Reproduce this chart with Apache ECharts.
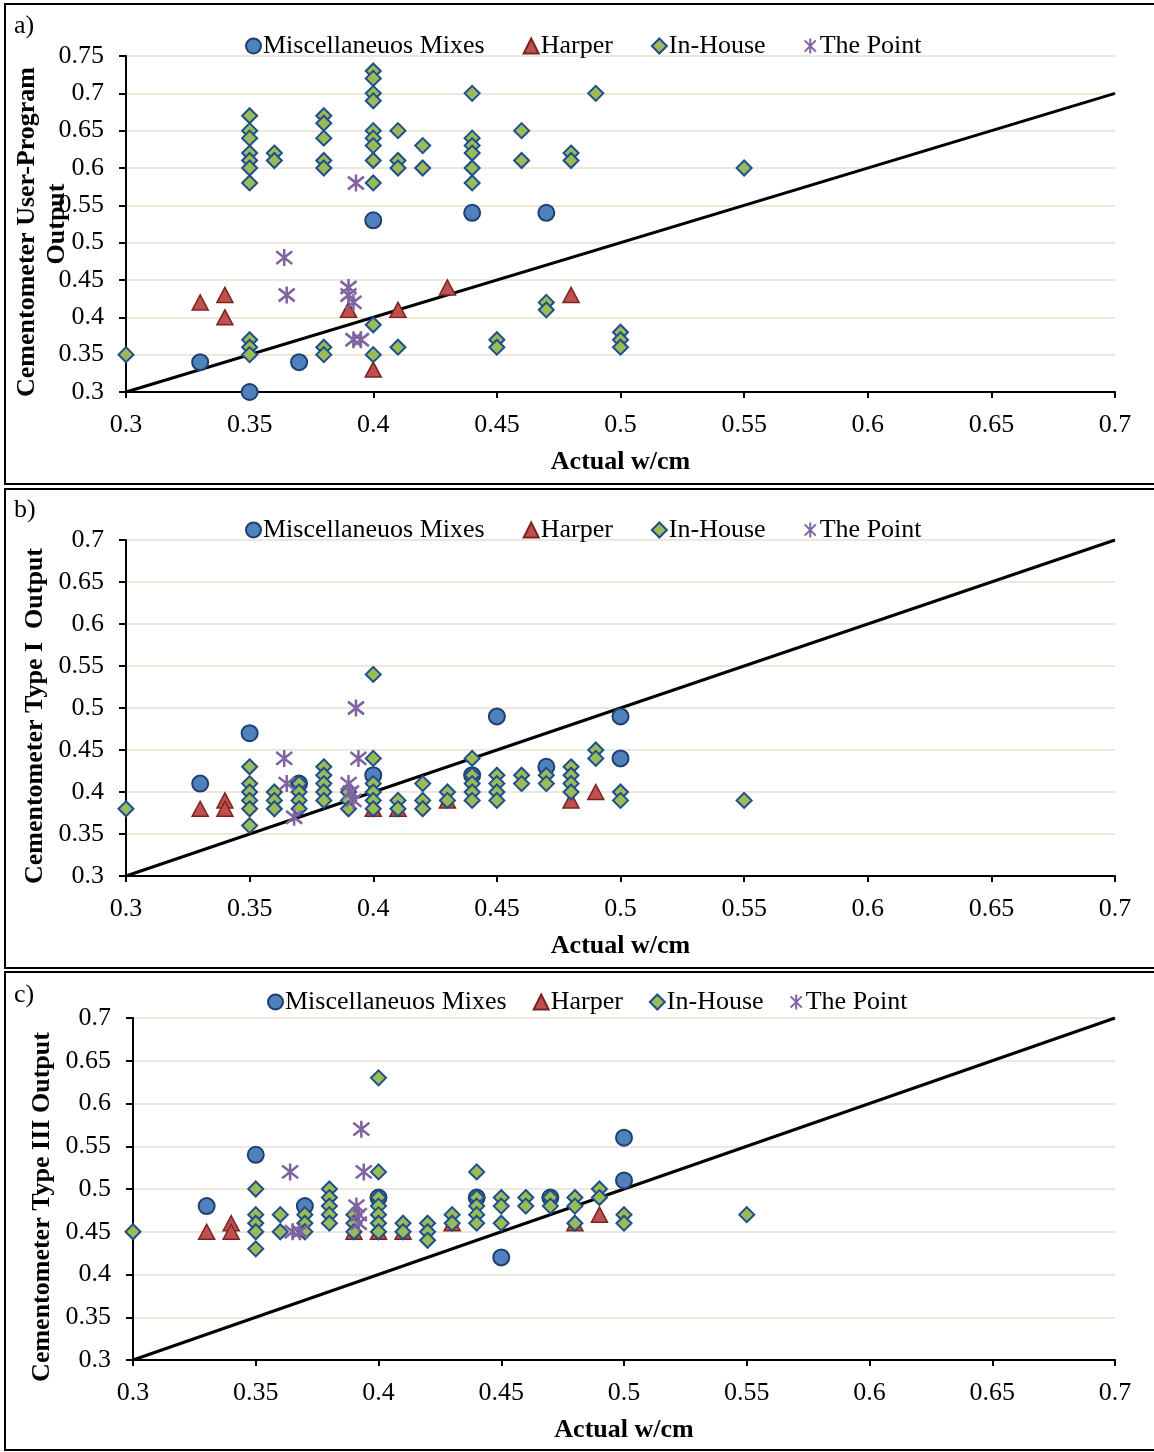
<!DOCTYPE html>
<html>
<head>
<meta charset="utf-8">
<script src="https://cdn.jsdelivr.net/npm/echarts@6/dist/echarts.min.js"></script>
<style>
html,body{margin:0;padding:0;background:#fff;}
#chart{width:1154px;height:1452px;}
</style>
</head>
<body>
<div id="chart"></div>
<script>
// ---------- DATA ----------
var seriesNames = ['Miscellaneuos Mixes', 'Harper', 'In-House', 'The Point'];
var xTicks = [0.3, 0.35, 0.4, 0.45, 0.5, 0.55, 0.6, 0.65, 0.7];
var yTicksA = [0.3, 0.35, 0.4, 0.45, 0.5, 0.55, 0.6, 0.65, 0.7, 0.75];
var yTicksBC = [0.3, 0.35, 0.4, 0.45, 0.5, 0.55, 0.6, 0.65, 0.7];
var equalityLine = [[0.3, 0.3], [0.7, 0.7]];

// Panel a) Cementometer User-Program Output
var miscA = [[0.33,0.34],[0.35,0.30],[0.37,0.34],[0.40,0.53],[0.44,0.54],[0.47,0.54]];
var harperA = [[0.33,0.42],[0.34,0.43],[0.34,0.40],[0.39,0.41],[0.40,0.33],[0.41,0.41],[0.43,0.44],[0.48,0.43]];
var inHouseA = [[0.30,0.35],
  [0.35,0.67],[0.35,0.65],[0.35,0.64],[0.35,0.62],[0.35,0.61],[0.35,0.60],[0.35,0.58],[0.35,0.37],[0.35,0.36],[0.35,0.35],
  [0.36,0.62],[0.36,0.61],
  [0.38,0.67],[0.38,0.66],[0.38,0.64],[0.38,0.61],[0.38,0.60],[0.38,0.36],[0.38,0.35],
  [0.40,0.73],[0.40,0.72],[0.40,0.70],[0.40,0.69],[0.40,0.65],[0.40,0.64],[0.40,0.63],[0.40,0.61],[0.40,0.58],[0.40,0.39],[0.40,0.35],
  [0.41,0.65],[0.41,0.61],[0.41,0.60],[0.41,0.36],
  [0.42,0.63],[0.42,0.60],
  [0.44,0.70],[0.44,0.64],[0.44,0.63],[0.44,0.62],[0.44,0.60],[0.44,0.58],
  [0.45,0.37],[0.45,0.36],
  [0.46,0.65],[0.46,0.61],
  [0.47,0.42],[0.47,0.41],
  [0.48,0.62],[0.48,0.61],
  [0.49,0.70],
  [0.50,0.38],[0.50,0.37],[0.50,0.36],
  [0.55,0.60]];
var pointA = [[0.364,0.48],[0.365,0.43],[0.39,0.44],[0.39,0.43],[0.392,0.42],[0.393,0.58],[0.392,0.37],[0.395,0.37]];

// Panel b) Cementometer Type I Output
var miscB = [[0.33,0.41],[0.35,0.47],[0.37,0.41],[0.40,0.42],[0.44,0.42],[0.45,0.49],[0.47,0.43],[0.50,0.49],[0.50,0.44]];
var harperB = [[0.33,0.38],[0.34,0.39],[0.34,0.38],[0.40,0.38],[0.41,0.38],[0.43,0.39],[0.48,0.39],[0.49,0.40]];
var inHouseB = [[0.30,0.38],
  [0.35,0.43],[0.35,0.41],[0.35,0.40],[0.35,0.39],[0.35,0.38],[0.35,0.36],
  [0.36,0.40],[0.36,0.39],[0.36,0.38],
  [0.37,0.41],[0.37,0.40],[0.37,0.39],[0.37,0.38],
  [0.38,0.43],[0.38,0.42],[0.38,0.41],[0.38,0.40],[0.38,0.39],
  [0.39,0.40],[0.39,0.39],[0.39,0.38],
  [0.40,0.54],[0.40,0.44],[0.40,0.41],[0.40,0.40],[0.40,0.39],[0.40,0.38],
  [0.41,0.39],[0.41,0.38],
  [0.42,0.41],[0.42,0.39],[0.42,0.38],
  [0.43,0.40],[0.43,0.39],
  [0.44,0.44],[0.44,0.42],[0.44,0.41],[0.44,0.40],[0.44,0.39],
  [0.45,0.42],[0.45,0.41],[0.45,0.40],[0.45,0.39],
  [0.46,0.42],[0.46,0.41],
  [0.47,0.42],[0.47,0.41],
  [0.48,0.43],[0.48,0.42],[0.48,0.41],[0.48,0.40],
  [0.49,0.45],[0.49,0.44],
  [0.50,0.40],[0.50,0.39],
  [0.55,0.39]];
var pointB = [[0.364,0.44],[0.365,0.41],[0.368,0.37],[0.393,0.50],[0.394,0.44],[0.39,0.41],[0.391,0.40],[0.392,0.39]];

// Panel c) Cementometer Type III Output
var miscC = [[0.33,0.48],[0.35,0.54],[0.37,0.48],[0.40,0.49],[0.44,0.49],[0.45,0.42],[0.47,0.49],[0.50,0.56],[0.50,0.51]];
var harperC = [[0.33,0.45],[0.34,0.46],[0.34,0.45],[0.39,0.45],[0.40,0.45],[0.41,0.45],[0.43,0.46],[0.48,0.46],[0.49,0.47]];
var inHouseC = [[0.30,0.45],
  [0.35,0.50],[0.35,0.47],[0.35,0.46],[0.35,0.45],[0.35,0.43],
  [0.36,0.47],[0.36,0.45],
  [0.37,0.47],[0.37,0.46],[0.37,0.45],
  [0.38,0.50],[0.38,0.49],[0.38,0.48],[0.38,0.47],[0.38,0.46],
  [0.39,0.47],[0.39,0.46],[0.39,0.45],
  [0.40,0.63],[0.40,0.52],[0.40,0.49],[0.40,0.48],[0.40,0.47],[0.40,0.46],[0.40,0.45],
  [0.41,0.46],[0.41,0.45],
  [0.42,0.46],[0.42,0.45],[0.42,0.44],
  [0.43,0.47],[0.43,0.46],
  [0.44,0.52],[0.44,0.49],[0.44,0.48],[0.44,0.47],[0.44,0.46],
  [0.45,0.49],[0.45,0.48],[0.45,0.46],
  [0.46,0.49],[0.46,0.48],
  [0.47,0.49],[0.47,0.48],
  [0.48,0.49],[0.48,0.48],[0.48,0.46],
  [0.49,0.50],[0.49,0.49],
  [0.50,0.47],[0.50,0.46],
  [0.55,0.47]];
var pointC = [[0.364,0.52],[0.365,0.45],[0.368,0.45],[0.393,0.57],[0.394,0.52],[0.391,0.48],[0.392,0.47],[0.392,0.46]];

// ---------- STYLE ----------
var FONT = '"Liberation Serif", "Times New Roman", serif';
var FS = 26;
var GRIDCOL = '#ECE8DC';
var starPath = 'path://M10,0 L10,20 M2.5,2.5 L17.5,17.5 M2.5,17.5 L17.5,2.5';

function fmt(v){ return String(parseFloat(v.toFixed(2))); }

function scatterSeries(idx, misc, harper, inHouse, point) {
  return [
    {type:'line', xAxisIndex:idx, yAxisIndex:idx, data:equalityLine, symbol:'none', silent:true,
     lineStyle:{color:'#000', width:3}, z:1, legendHoverLink:false, tooltip:{show:false}},
    {name:seriesNames[0], type:'scatter', xAxisIndex:idx, yAxisIndex:idx, data:misc, symbol:'circle', symbolSize:16, z:3,
     itemStyle:{color:'#4F81BD', borderColor:'#1F3F6E', borderWidth:2, opacity:1}},
    {name:seriesNames[1], type:'scatter', xAxisIndex:idx, yAxisIndex:idx, data:harper, symbol:'triangle', symbolSize:[16,15], z:3,
     itemStyle:{color:'#C0504D', borderColor:'#7A2422', borderWidth:1.5, opacity:1}},
    {name:seriesNames[2], type:'scatter', xAxisIndex:idx, yAxisIndex:idx, data:inHouse, symbol:'diamond', symbolSize:[15,15], z:3,
     itemStyle:{color:'#9BBB59', borderColor:'#1F4E8C', borderWidth:2, opacity:1}},
    {name:seriesNames[3], type:'scatter', xAxisIndex:idx, yAxisIndex:idx, data:point, symbol:starPath, symbolSize:[16,17], z:4,
     itemStyle:{color:'rgba(0,0,0,0)', borderColor:'#8064A2', borderWidth:2.6, opacity:1}}
  ];
}

function xAx(idx) {
  return {gridIndex:idx, type:'value', min:0.3, max:0.7, interval:0.05,
    name:'Actual w/cm', nameLocation:'middle', nameGap:70,
    nameTextStyle:{fontFamily:FONT, fontSize:FS, fontWeight:'bold', color:'#000', verticalAlign:'middle'},
    axisLine:{show:true, onZero:false, lineStyle:{color:'#000', width:2}},
    axisTick:{show:true, length:6, lineStyle:{color:'#000', width:2}},
    axisLabel:{fontFamily:FONT, fontSize:FS, color:'#000', margin:20, formatter:fmt},
    splitLine:{show:false}};
}
function yAx(idx, max) {
  return {gridIndex:idx, type:'value', min:0.3, max:max, interval:0.05,
    axisLine:{show:true, onZero:false, lineStyle:{color:'#000', width:2}},
    axisTick:{show:true, length:7, lineStyle:{color:'#000', width:2}},
    axisLabel:{fontFamily:FONT, fontSize:FS, color:'#000', margin:22, formatter:fmt},
    splitLine:{show:true, lineStyle:{color:GRIDCOL, width:2}}};
}
function legend(top, left, gap) {
  return {top:top, left:left, itemGap:gap, itemWidth:15, itemHeight:15,
    data:seriesNames, selectedMode:false,
    textStyle:{fontFamily:FONT, fontSize:FS, color:'#000', padding:[0,0,0,-3]}};
}

var chart = echarts.init(document.getElementById('chart'), null, {renderer:'canvas'});
var option = {
  backgroundColor:'#fff',
  animation:false,
  grid:[
    {left:126, right:39, top:56, height:336},
    {left:126, right:39, top:540, height:336},
    {left:133, right:39, top:1018, height:342}
  ],
  xAxis:[xAx(0), xAx(1), xAx(2)],
  yAxis:[yAx(0,0.75), yAx(1,0.7), yAx(2,0.7)],
  legend:[legend(28, 240, 38), legend(512, 240, 38), legend(984, 262, 26)],
  series:[].concat(
    scatterSeries(0, miscA, harperA, inHouseA, pointA),
    scatterSeries(1, miscB, harperB, inHouseB, pointB),
    scatterSeries(2, miscC, harperC, inHouseC, pointC)
  ),
  graphic:[
    {type:'rect', shape:{x:5, y:4, width:1200, height:480}, style:{fill:'none', stroke:'#000', lineWidth:2}, z:-1, silent:true},
    {type:'rect', shape:{x:5, y:489, width:1200, height:479}, style:{fill:'none', stroke:'#000', lineWidth:2}, z:-1, silent:true},
    {type:'rect', shape:{x:5, y:972, width:1200, height:478}, style:{fill:'none', stroke:'#000', lineWidth:2}, z:-1, silent:true},
    {type:'text', left:14, top:13, style:{text:'a)', font:'26px ' + FONT, fill:'#000'}},
    {type:'text', left:14, top:497, style:{text:'b)', font:'26px ' + FONT, fill:'#000'}},
    {type:'text', left:14, top:982, style:{text:'c)', font:'26px ' + FONT, fill:'#000'}},
    {type:'text', x:27, y:232, rotation:Math.PI/2, style:{text:'Cementometer User-Program', font:'bold 26px ' + FONT, fill:'#000', textAlign:'center', textVerticalAlign:'middle'}},
    {type:'text', x:57, y:224, rotation:Math.PI/2, style:{text:'Output', font:'bold 26px ' + FONT, fill:'#000', textAlign:'center', textVerticalAlign:'middle'}},
    {type:'text', x:35, y:716, rotation:Math.PI/2, style:{text:'Cementometer Type I  Output', font:'bold 26px ' + FONT, fill:'#000', textAlign:'center', textVerticalAlign:'middle'}},
    {type:'text', x:42, y:1207, rotation:Math.PI/2, style:{text:'Cementometer Type III Output', font:'bold 26px ' + FONT, fill:'#000', textAlign:'center', textVerticalAlign:'middle'}}
  ]
};
chart.setOption(option);
</script>
</body>
</html>
